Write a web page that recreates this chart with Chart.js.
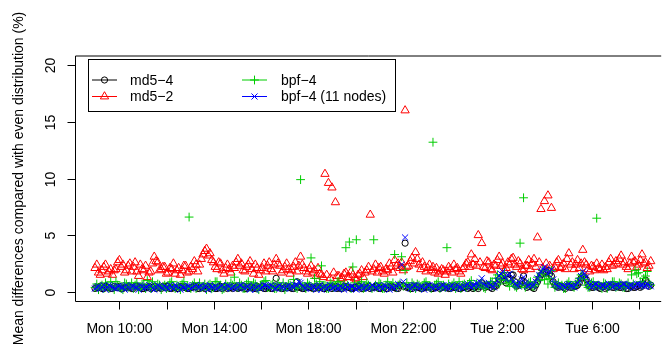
<!DOCTYPE html>
<html>
<head>
<meta charset="utf-8">
<script src="https://cdn.jsdelivr.net/npm/chart.js@4/dist/chart.umd.min.js"></script>
<style>
html,body{margin:0;padding:0;background:#fff;overflow:hidden}
#wrap{width:667px;height:350px;position:relative}
</style>
</head>
<body>
<div id="wrap"><canvas id="c" width="667" height="350"></canvas></div>
<script>
// Sampling: first sample Mon ~08:58, regular interval (hours since Mon 00:00)
const startHour = 8.97;
const stepHours = 0.07375;

// md5-4 (black circles)
const md54 = [
0.3,0.4,0.4,0.5,0.3,0.3,0.5,0.4,0.4,0.3,0.3,0.5,0.4,0.4,0.5,0.3,0.3,0.4,0.4,0.5,
0.4,0.3,0.3,0.5,0.5,0.4,0.4,0.3,0.3,0.4,0.4,0.5,0.3,0.4,0.5,0.3,0.4,0.4,0.3,0.5,
0.4,0.5,0.5,0.3,0.3,0.4,0.4,0.3,0.3,0.5,0.5,0.4,0.4,0.3,0.3,0.4,0.4,0.5,0.5,0.3,
0.3,0.4,0.4,0.3,0.5,0.4,0.3,0.5,0.4,0.3,0.3,0.4,0.5,0.3,0.4,0.5,0.3,0.4,0.4,0.3,
0.5,0.4,0.3,0.4,0.4,0.5,0.3,0.3,0.5,0.4,0.4,0.3,0.3,0.5,0.4,0.4,0.5,0.3,0.3,0.4,
0.4,0.3,0.3,0.5,1.2,0.4,0.4,0.3,0.3,0.4,0.5,0.4,0.4,0.3,0.3,0.5,0.9,0.4,0.4,0.3,
0.3,0.4,0.5,0.4,0.4,0.3,0.3,0.5,0.4,0.4,0.5,0.3,0.3,0.4,0.4,0.5,0.3,0.4,0.5,0.3,
0.4,0.3,0.3,0.5,0.5,0.4,0.4,0.3,0.3,0.4,0.4,0.5,0.5,0.3,0.3,0.4,0.4,0.5,0.3,0.4,
0.4,0.5,0.5,0.3,0.3,0.4,0.4,0.3,0.3,0.5,0.5,0.4,0.4,0.3,0.3,0.6,2.2,0.5,4.3,0.4,
0.4,0.3,0.3,0.5,0.5,0.4,0.4,0.3,0.3,0.4,0.4,0.5,0.5,0.3,0.3,0.4,0.4,0.5,0.3,0.4,
0.5,0.4,0.4,0.3,0.3,0.5,0.4,0.4,0.5,0.3,0.3,0.4,0.4,0.5,0.3,0.4,0.5,0.3,0.4,0.5,
0.3,0.5,0.8,0.6,0.4,0.5,0.6,0.4,0.3,0.5,0.5,0.7,1.1,1.3,1.4,1.0,0.8,1.1,1.2,1.5,
1.5,0.9,0.5,0.6,0.7,1.0,1.4,0.8,0.4,0.5,0.6,0.4,0.3,0.6,0.9,1.2,1.5,1.6,1.7,1.8,
1.9,1.6,1.4,0.9,0.6,0.5,0.4,0.5,0.5,0.4,0.3,0.5,0.6,0.4,0.4,0.5,0.5,0.6,0.8,1.2,
1.4,1.3,1.1,0.7,0.5,0.4,0.4,0.5,0.6,0.4,0.3,0.5,0.5,0.3,0.4,0.5,0.6,0.4,0.4,0.5,
0.5,0.4,0.4,0.6,0.6,0.3,0.3,0.5,0.5,0.4,0.4,0.5,0.6,0.4,0.5,0.7,1.05,0.8,0.5,0.6
];

// md5-2 (red triangles)
const md52 = [
2.1,2.4,1.7,1.5,1.9,2.2,2.4,1.6,1.8,2.0,1.5,1.9,2.0,2.6,2.8,2.2,2.4,1.7,1.9,2.3,
2.5,1.8,2.2,2.6,1.8,1.4,2.4,2.0,1.9,2.3,1.3,1.7,1.8,2.5,3.1,2.7,2.6,1.9,2.0,2.2,
2.2,1.6,1.7,2.1,2.0,2.5,1.6,1.9,2.1,1.5,1.9,2.3,2.3,1.7,1.8,2.2,2.0,2.7,2.4,1.8,
2.4,2.9,3.3,3.6,3.8,3.2,3.4,2.8,2.6,2.2,2.0,2.6,2.5,1.9,1.6,2.1,2.4,2.0,1.7,2.3,
2.1,2.6,2.9,2.3,2.5,1.9,1.8,2.2,2.4,2.7,2.0,1.6,2.4,2.1,1.5,1.9,2.1,2.5,1.8,2.3,
2.6,2.0,1.8,2.4,2.9,2.5,2.3,1.7,1.9,2.2,2.5,2.0,1.6,1.9,2.2,2.6,1.8,2.3,3.1,2.4,
2.1,1.8,1.6,2.0,2.3,1.7,1.9,1.4,2.1,1.6,1.5,1.3,10.4,1.5,9.6,1.2,9.2,1.7,7.9,1.4,
1.4,1.1,1.2,1.6,1.7,1.3,1.3,1.8,1.5,1.2,1.1,1.5,1.6,1.9,1.3,1.7,1.9,2.2,6.8,1.8,
2.0,2.4,1.7,2.1,2.2,1.8,1.6,2.0,1.9,2.5,2.2,1.7,2.8,2.3,2.5,2.1,2.6,1.9,16.0,2.2,
2.3,2.7,3.0,2.5,3.5,2.9,2.4,2.0,2.6,2.2,1.8,2.1,2.4,1.9,2.2,1.7,2.1,1.6,1.8,2.0,
1.9,1.5,1.8,2.2,2.0,1.7,2.4,2.0,2.1,1.8,1.6,2.0,2.2,2.5,2.6,2.2,3.3,2.4,2.9,2.3,
5.0,2.6,4.3,2.2,2.1,2.7,2.6,2.0,1.9,2.4,2.3,2.8,3.1,2.3,2.5,1.9,2.1,2.6,2.4,2.9,
3.0,2.4,2.2,2.7,2.5,2.0,1.9,2.3,2.3,2.8,2.0,2.5,2.9,2.2,4.8,2.6,7.3,2.1,8.0,2.5,
8.5,2.3,7.4,2.0,2.2,2.6,2.8,2.1,2.2,2.5,2.0,2.9,3.4,2.4,2.6,2.0,2.4,2.8,2.1,2.5,
3.7,2.6,2.4,2.0,1.8,2.3,2.2,1.9,2.5,2.1,2.0,2.4,1.9,2.2,2.0,2.6,2.9,2.3,2.4,2.7,
2.5,2.9,3.2,2.4,2.6,2.2,2.0,2.5,3.1,2.6,2.7,2.2,2.4,2.8,3.3,2.5,2.6,2.1,2.3,2.7
];

// bpf-4 (green plus)
const bpf4 = [
0.4,0.7,0.2,0.5,0.6,0.3,0.8,0.5,0.3,0.9,0.5,0.2,0.9,0.6,0.4,0.3,0.2,0.8,0.7,0.4,
0.5,0.8,0.3,0.6,0.8,0.2,0.4,0.7,0.6,0.3,1.0,0.5,0.3,0.9,0.5,0.4,0.7,0.6,0.2,0.5,
0.6,0.3,0.4,0.8,0.9,0.5,0.3,0.6,0.5,0.2,0.7,0.9,0.4,0.5,6.6,0.3,0.6,0.8,0.3,0.5,
0.8,0.4,0.5,0.7,0.2,0.6,0.7,0.3,0.4,0.9,0.9,0.5,0.6,0.2,0.3,0.7,0.5,0.4,0.8,0.6,
1.3,0.5,0.4,0.8,0.6,0.3,0.3,0.7,0.9,0.4,0.5,0.8,0.7,0.3,0.2,0.6,0.6,0.9,1.0,0.4,
0.4,0.6,0.7,0.3,0.3,0.8,0.5,0.4,0.8,0.2,0.4,0.7,0.6,0.5,1.1,0.4,0.3,0.7,9.9,0.5,
0.5,0.3,0.8,0.6,3.0,0.4,1.2,0.7,0.4,0.9,2.3,0.5,0.6,0.3,0.3,0.8,0.7,0.4,0.5,0.9,
0.9,0.5,0.4,0.7,3.9,0.6,4.4,0.3,2.2,0.8,4.6,0.5,0.6,0.9,0.3,0.4,0.8,0.6,0.5,0.3,
4.6,0.6,0.4,0.8,0.7,0.3,0.3,0.6,0.9,0.5,0.5,0.8,3.3,0.4,0.6,0.7,3.1,0.5,1.9,0.8,
0.5,0.3,0.8,0.6,0.3,0.7,0.6,0.4,0.4,0.8,0.9,0.5,0.5,0.3,13.2,0.6,0.7,0.9,0.3,0.5,
0.6,0.4,3.9,0.7,0.4,0.6,0.8,0.3,0.5,0.9,0.3,0.6,0.7,0.4,0.6,0.8,1.0,0.5,0.4,0.7,
0.5,0.7,0.8,0.4,0.3,0.6,0.6,0.9,0.9,0.5,1.2,1.5,0.7,1.1,1.4,1.7,1.0,0.8,0.5,0.9,
0.8,0.5,0.4,0.7,4.3,0.6,8.3,0.4,0.6,0.8,0.9,0.5,0.5,0.7,1.3,1.0,1.6,1.9,1.1,1.4,
0.7,1.2,1.9,0.9,0.4,0.6,0.8,0.5,0.6,0.3,0.3,0.7,0.9,0.6,0.5,0.4,0.7,0.9,1.2,1.5,
1.5,1.1,0.6,0.4,0.4,0.8,0.9,0.5,6.5,0.6,0.5,0.3,0.8,0.7,0.3,0.5,0.6,0.9,0.9,0.4,
0.5,0.8,0.7,0.4,0.4,0.6,0.8,0.5,1.5,0.7,1.9,1.6,1.7,0.9,0.6,1.2,1.4,1.8,0.8,0.6
];

// bpf-4 (11 nodes) (blue x)
const bpf4n11 = [
0.3,0.4,0.5,0.3,0.4,0.6,0.2,0.4,0.6,0.5,0.4,0.3,0.3,0.5,0.5,0.4,0.4,0.2,0.6,0.4,
0.3,0.5,0.5,0.4,0.4,0.2,0.6,0.5,0.3,0.4,0.4,0.6,0.5,0.3,0.2,0.4,0.6,0.5,0.4,0.3,
0.5,0.4,0.3,0.6,0.4,0.3,0.6,0.5,0.4,0.2,0.5,0.4,0.3,0.6,0.5,0.3,0.4,0.5,0.6,0.4,
0.4,0.6,0.3,0.5,0.5,0.2,0.6,0.4,0.4,0.5,0.3,0.4,0.5,0.6,0.4,0.3,0.6,0.5,0.3,0.4,
0.5,0.3,0.4,0.6,0.6,0.4,0.3,0.5,0.5,0.2,0.4,0.6,0.2,0.4,0.5,0.3,0.4,0.6,0.6,0.5,
0.4,0.6,0.5,0.3,0.3,0.5,0.6,0.4,0.4,0.3,0.5,0.6,0.3,0.5,0.4,0.6,0.6,0.9,0.8,0.5,
0.4,0.3,0.6,0.4,0.3,0.5,0.5,0.2,0.4,0.6,0.2,0.4,0.5,0.3,0.4,0.6,0.3,0.4,0.5,0.3,
0.3,0.5,0.4,0.2,0.6,0.4,0.3,0.5,0.5,0.3,0.2,0.4,0.4,0.6,0.3,0.4,0.5,0.3,0.4,0.6,
0.5,0.4,0.3,0.6,0.4,0.3,0.6,0.5,0.4,0.2,0.5,0.4,0.3,0.5,0.7,0.6,2.4,0.9,4.8,0.5,
0.5,0.3,0.4,0.6,0.6,0.4,0.3,0.5,0.5,0.2,0.4,0.6,0.6,0.4,0.3,0.5,0.5,0.3,0.4,0.6,
0.6,0.4,0.4,0.3,0.5,0.6,0.3,0.5,0.6,0.4,0.4,0.3,0.5,0.6,0.7,0.5,0.4,0.6,0.6,0.8,
0.5,0.9,1.2,0.7,0.6,0.5,0.8,0.6,0.5,0.4,0.7,1.0,1.4,1.6,1.8,1.3,1.1,1.5,1.6,1.2,
0.9,0.7,0.6,0.5,0.8,1.1,1.3,0.8,0.5,0.6,0.7,0.5,0.6,0.9,1.2,1.5,1.8,2.0,2.2,1.9,
1.6,1.8,2.0,1.1,0.7,0.6,0.5,0.4,0.6,0.5,0.4,0.6,0.7,0.5,0.5,0.4,0.6,0.8,1.0,1.4,
1.8,1.6,1.3,0.8,0.6,0.4,0.5,0.7,0.7,0.5,0.4,0.6,0.6,0.4,0.5,0.7,0.7,0.4,0.5,0.6,
0.6,0.4,0.5,0.7,0.7,0.5,0.4,0.6,0.6,0.4,0.5,0.7,0.7,0.6,0.6,0.5,0.5,0.7,0.6,0.5
];

const seriesNames = ['md5\u22124', 'md5\u22122', 'bpf\u22124', 'bpf\u22124 (11 nodes)'];
const seriesColors = ['#000000', '#FF0000', '#00CD00', '#0000FF'];

const xTickHours = [10,12,14,16,18,20,22,24,26,28,30,32,34];
const xTickLabels = {10:'Mon 10:00', 14:'Mon 14:00', 18:'Mon 18:00', 22:'Mon 22:00', 26:'Tue 2:00', 30:'Tue 6:00'};
const yTicks = [0,5,10,15,20];
const yTitle = 'Mean differences compared with even distribution (%)';

const toPts = arr => arr.map((v, i) => ({x: startHour + i * stepHours, y: v}));

const FONT = '14px "Liberation Sans", Arial, Helvetica, sans-serif';
const styles = [
  {pointStyle:'circle', radius:3.1},
  {pointStyle:'triangle', radius:4.8},
  {pointStyle:'cross', radius:4.4},
  {pointStyle:'crossRot', radius:4.3}
];
const dataArrays = [md54, md52, bpf4, bpf4n11];

const datasets = dataArrays.map((arr, k) => ({
  label: seriesNames[k],
  data: toPts(arr),
  showLine: false,
  pointStyle: styles[k].pointStyle,
  pointRadius: styles[k].radius,
  pointBorderWidth: 1,
  pointBorderColor: seriesColors[k],
  pointBackgroundColor: 'rgba(0,0,0,0)',
  order: 4 - k
}));

function drawSym(ctx, k, x, y) {
  ctx.fillStyle = 'rgba(0,0,0,0)';
  ctx.strokeStyle = seriesColors[k];
  ctx.lineWidth = 1;
  Chart.helpers.drawPoint(ctx, {pointStyle: styles[k].pointStyle, radius: styles[k].radius, rotation: 0, borderWidth: 1}, x, y);
}

const decor = {
  id: 'decor',
  afterDraw(chart) {
    const ctx = chart.ctx;
    const xs = chart.scales.x, ys = chart.scales.y;
    const a = chart.chartArea;
    ctx.save();
    ctx.strokeStyle = '#000';
    ctx.fillStyle = '#000';
    ctx.lineWidth = 1;
    const L = Math.round(a.left) + 0.5, B = Math.round(a.bottom) + 0.5, T = Math.round(a.top);
    ctx.beginPath();
    ctx.moveTo(a.right, T); ctx.lineTo(L, T);
    ctx.moveTo(L, T); ctx.lineTo(L, B);
    ctx.moveTo(L, B); ctx.lineTo(a.right, B);
    ctx.stroke();
    ctx.font = FONT;
    yTicks.forEach(v => {
      const py = Math.round(ys.getPixelForValue(v)) + 0.5;
      ctx.beginPath(); ctx.moveTo(L, py); ctx.lineTo(L - 8, py); ctx.stroke();
      ctx.save();
      ctx.translate(55, py);
      ctx.rotate(-Math.PI / 2);
      ctx.textAlign = 'center'; ctx.textBaseline = 'alphabetic';
      ctx.fillText(String(v), 0, 0);
      ctx.restore();
    });
    xTickHours.forEach(h => {
      const px = Math.round(xs.getPixelForValue(h)) + 0.5;
      if (px < a.left || px > a.right) return;
      ctx.beginPath(); ctx.moveTo(px, B); ctx.lineTo(px, B + 8); ctx.stroke();
      if (xTickLabels[h]) {
        ctx.textAlign = 'center'; ctx.textBaseline = 'alphabetic';
        ctx.fillText(xTickLabels[h], px, 333);
      }
    });
    ctx.save();
    ctx.translate(23, (a.top + a.bottom) / 2);
    ctx.rotate(-Math.PI / 2);
    ctx.textAlign = 'center'; ctx.textBaseline = 'alphabetic';
    ctx.fillText(yTitle, 0, 0);
    ctx.restore();
    // legend
    ctx.fillStyle = '#fff';
    ctx.fillRect(88.5, 59.5, 307, 52);
    ctx.strokeStyle = '#000';
    ctx.strokeRect(88.5, 59.5, 307, 52);
    const rows = [80, 96.5];
    const cols = [{l0:92, l1:117, s:104.5, t:130}, {l0:242, l1:267, s:254.5, t:281}];
    const pos = [[0,0],[0,1],[1,0],[1,1]];
    pos.forEach(([c, r], k) => {
      const col = cols[c], yy = rows[r];
      ctx.strokeStyle = seriesColors[k];
      ctx.lineWidth = 1;
      ctx.beginPath(); ctx.moveTo(col.l0, yy); ctx.lineTo(col.l1, yy); ctx.stroke();
      drawSym(ctx, k, col.s, yy);
      ctx.fillStyle = '#000';
      ctx.font = FONT;
      ctx.textAlign = 'left'; ctx.textBaseline = 'middle';
      ctx.fillText(seriesNames[k], col.t, yy + 1);
    });
    ctx.restore();
  }
};

new Chart(document.getElementById('c'), {
  type: 'scatter',
  data: {datasets},
  options: {
    responsive: false,
    animation: false,
    devicePixelRatio: 1,
    events: [],
    layout: {padding: {left: 75, top: 56, right: 0, bottom: 49}},
    plugins: {legend: {display: false}, tooltip: {enabled: false}},
    scales: {
      x: {type: 'linear', display: false, min: 8.122, max: 32.94},
      y: {type: 'linear', display: false, min: -0.8, max: 20.8}
    }
  },
  plugins: [decor]
});
</script>
</body>
</html>
